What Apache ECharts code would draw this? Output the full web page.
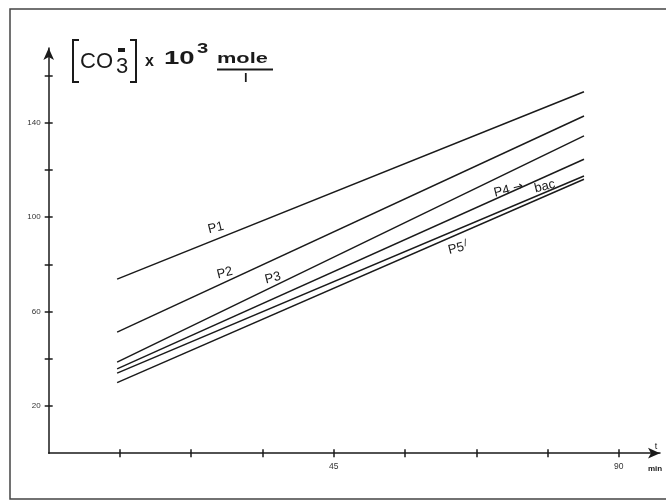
<!DOCTYPE html>
<html>
<head>
<meta charset="utf-8">
<script src="https://cdn.jsdelivr.net/npm/echarts@6/dist/echarts.min.js"></script>
<style>
  html, body { margin: 0; padding: 0; background: #fff; }
  #chart { width: 666px; height: 502px; }
</style>
</head>
<body>
<div id="chart"></div>
<script>
// time (min) where the lines start and end
var times = [10.8, 84.5];
// [CO3=] x 10^3 mole/l at those times
var p1 = [73.7, 153.1];
var p2 = [51.3, 142.8];
var p3 = [38.6, 134.4];
var p4 = [35.7, 124.5];
var bac = [33.9, 117.4];
var p5 = [29.9, 116.0];

var yTicks = [20, 40, 60, 80, 100, 120, 140, 160];
var yLabels = [20, 60, 100, 140];
var xTicks = [11.25, 22.5, 33.75, 45, 56.25, 67.5, 78.75, 90];
var xLabels = [45, 90];

// line name labels: [text, t, value]
var lineLabels = [
    ['P1', 26.4, 95.4],
    ['P2', 27.8, 76.3],
    ['P3', 35.4, 74.2],
    ['{a|P4} {c|\u2192}', 72.6, 111.6],
    ['bac', 78.3, 112.9],
    ['{a|P5}{b|/}', 64.6, 86.8]
];

function pairs(vals) {
    var out = [];
    for (var i = 0; i < times.length; i++) {
        out.push([times[i], vals[i]]);
    }
    return out;
}

var ink = '#1a1a1a';
var font = 'Liberation Sans';

function makeSeries(vals, label) {
    return {
        type: 'line',
        data: pairs(vals),
        symbol: 'none',
        lineStyle: { color: ink, width: 1.5 },
        animation: false,
        markPoint: {
            symbol: 'circle',
            symbolSize: 0,
            data: [{
                coord: [label[1], label[2]],
                label: {
                    show: true,
                    position: 'inside',
                    formatter: label[0],
                    rotate: 14,
                    color: ink,
                    fontFamily: font,
                    fontSize: 13,
                    rich: {
                        a: { fontFamily: font, fontSize: 13, color: ink },
                        b: { fontFamily: font, fontSize: 10, color: ink, padding: [0, 0, 6, 1] },
                        c: { fontFamily: 'DejaVu Sans', fontSize: 12, color: ink }
                    }
                }
            }]
        }
    };
}

var chart = echarts.init(document.getElementById('chart'));

var yBase = {
    type: 'value', min: 0, max: 171.6, interval: 20,
    position: 'left', offset: 0,
    splitLine: { show: false }
};
var xBase = {
    type: 'value', min: 0, max: 96.5, interval: 11.25,
    position: 'bottom', offset: 0,
    splitLine: { show: false }
};

chart.setOption({
    backgroundColor: '#fff',
    animation: false,
    grid: { left: 48.7, right: 6, top: 48, bottom: 48.8, containLabel: false, outerBoundsMode: 'none' },
    xAxis: [
        Object.assign({}, xBase, {
            axisLine: { show: true, symbol: ['none', 'arrow'], symbolSize: [8, 12], lineStyle: { color: ink, width: 1.5 } },
            axisTick: { show: true, length: 4, customValues: xTicks, lineStyle: { color: ink, width: 1.5 } },
            axisLabel: { show: true, customValues: xLabels, margin: 9, fontSize: 8.5, color: '#333', fontFamily: font }
        }),
        Object.assign({}, xBase, {
            axisLine: { show: false },
            axisTick: { show: true, inside: true, length: 4, customValues: xTicks, lineStyle: { color: ink, width: 1.5 } },
            axisLabel: { show: false }
        })
    ],
    yAxis: [
        Object.assign({}, yBase, {
            axisLine: { show: true, symbol: ['none', 'arrow'], symbolSize: [8, 12], lineStyle: { color: ink, width: 1.5 } },
            axisTick: { show: true, length: 4, customValues: yTicks, lineStyle: { color: ink, width: 1.5 } },
            axisLabel: { show: true, customValues: yLabels, margin: 8, fontSize: 8, color: '#333', fontFamily: font }
        }),
        Object.assign({}, yBase, {
            axisLine: { show: false },
            axisTick: { show: true, inside: true, length: 4, customValues: yTicks, lineStyle: { color: ink, width: 1.5 } },
            axisLabel: { show: false }
        })
    ],
    series: [
        makeSeries(p1, lineLabels[0]),
        makeSeries(p2, lineLabels[1]),
        makeSeries(p3, lineLabels[2]),
        makeSeries(p4, lineLabels[3]),
        makeSeries(bac, lineLabels[4]),
        makeSeries(p5, lineLabels[5])
    ],
    graphic: [
        // frame of the figure
        { type: 'polyline', shape: { points: [[680, 9], [10, 9], [10, 499], [680, 499]] },
          style: { fill: null, stroke: '#444', lineWidth: 1.5 }, silent: true },
        // axis title: [CO3=] x 10^3 mole/l
        { type: 'polyline', shape: { points: [[79, 40], [73, 40], [73, 82], [79, 82]] },
          style: { fill: null, stroke: ink, lineWidth: 2 } },
        { type: 'polyline', shape: { points: [[130, 40], [136, 40], [136, 82], [130, 82]] },
          style: { fill: null, stroke: ink, lineWidth: 2 } },
        { type: 'text', x: 80, y: 62, style: { text: 'CO', font: '22px ' + font, fill: ink, verticalAlign: 'middle' } },
        { type: 'text', x: 116, y: 67, style: { text: '3', font: '22px ' + font, fill: ink, verticalAlign: 'middle' } },
        { type: 'rect', shape: { x: 118, y: 48, width: 7, height: 4 }, style: { fill: ink } },
        { type: 'text', x: 145, y: 62, style: { text: 'x', font: 'bold 16px ' + font, fill: ink, verticalAlign: 'middle' } },
        { type: 'text', x: 164, y: 59, scaleX: 1.45, style: { text: '10', font: 'bold 19px ' + font, fill: ink, verticalAlign: 'middle' } },
        { type: 'text', x: 197, y: 49, scaleX: 1.35, style: { text: '3', font: 'bold 15px ' + font, fill: ink, verticalAlign: 'middle' } },
        { type: 'text', x: 217, y: 59, scaleX: 1.45, style: { text: 'mole', font: 'bold 15px ' + font, fill: ink, verticalAlign: 'middle' } },
        { type: 'line', shape: { x1: 217, y1: 69.5, x2: 273, y2: 69.5 }, style: { stroke: ink, lineWidth: 2 } },
        { type: 'text', x: 244, y: 78, style: { text: 'l', font: 'bold 13px ' + font, fill: ink, verticalAlign: 'middle' } },
        // x axis name
        { type: 'text', x: 656, y: 447, style: { text: 't', font: '9px ' + font, fill: ink, align: 'center', verticalAlign: 'middle' } },
        { type: 'text', x: 655, y: 469, style: { text: 'min', font: 'bold 8px ' + font, fill: ink, align: 'center', verticalAlign: 'middle' } }
    ]
});
</script>
</body>
</html>
